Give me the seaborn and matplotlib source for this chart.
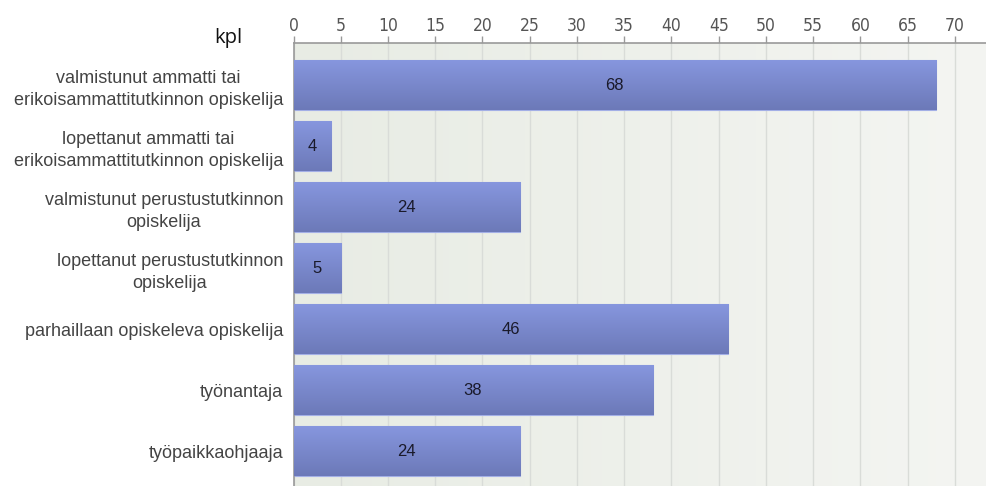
import numpy as np
import pandas as pd
import matplotlib
matplotlib.use("Agg")
import matplotlib.pyplot as plt
import seaborn as sns
from matplotlib.colors import LinearSegmentedColormap

categories = [
    "valmistunut ammatti tai\nerikoisammattitutkinnon opiskelija",
    "lopettanut ammatti tai\nerikoisammattitutkinnon opiskelija",
    "valmistunut perustustutkinnon\nopiskelija",
    "lopettanut perustustutkinnon\nopiskelija",
    "parhaillaan opiskeleva opiskelija",
    "työnantaja",
    "työpaikkaohjaaja",
]
values = [68, 4, 24, 5, 46, 38, 24]
xticks = list(range(0, 75, 5))
unit_label = "kpl"

df = pd.DataFrame({"cat": categories, "val": values})

sns.set_theme(style="white")
plt.rcParams["font.family"] = ["Liberation Sans", "DejaVu Sans"]

W, H = 986, 486
fig = plt.figure(figsize=(W / 100, H / 100), dpi=100)
left_px, top_px = 293.5, 43
ax = fig.add_axes([left_px / W, 0, (W - left_px) / W, (H - top_px) / H])

xmax = (W - left_px) / 9.45
ax.set_xlim(0, xmax)
ax.set_ylim(6.57, -0.69)

# background gradient
bg = LinearSegmentedColormap.from_list("bg", ["#e8ece4", "#f4f5f2"])
grad = np.linspace(0, 1, 256).reshape(1, -1)
ax.imshow(grad, cmap=bg, aspect="auto", extent=[0, xmax, 6.57, -0.69], zorder=0)

for t in xticks:
    ax.axvline(t, color="#d9dcd8", lw=1, zorder=1)

sns.barplot(data=df, x="val", y="cat", orient="h", color="#7b89cf",
            width=0.82, ax=ax, zorder=2, edgecolor="#a3afe6", linewidth=0.8,
            saturation=1)

barcm = LinearSegmentedColormap.from_list("bar", ["#8797df", "#6c79b8"])
vgrad = np.linspace(0, 1, 256).reshape(-1, 1)
for p in ax.patches:
    x0, y0 = p.get_x(), p.get_y()
    w, h = p.get_width(), p.get_height()
    im = ax.imshow(vgrad, cmap=barcm, aspect="auto",
                   extent=[x0, x0 + w, y0 + h, y0], zorder=3)
    im.set_clip_path(p)

for i, v in enumerate(values):
    ax.text(v / 2, i, str(v), ha="center", va="center", fontsize=12,
            color="#1a1a2a", zorder=5)

ax.set_xlim(0, xmax)
ax.set_ylim(6.57, -0.69)
ax.set_xticks(xticks)
ax.xaxis.tick_top()
ax.tick_params(axis="x", which="both", top=True, bottom=False, direction="out",
               length=5, width=1, color="#999999", labelsize=12.5,
               labelcolor="#555555", pad=0.5)
for lbl in ax.get_xticklabels():
    lbl.set_family("DejaVu Sans")
    lbl.set_fontstretch("condensed")
ax.set_xlabel("")
ax.set_ylabel("")
ax.set_yticks(range(len(categories)))
ax.set_yticklabels(categories, fontsize=13.0, color="#444444",
                   ha="right", linespacing=1.35)
for lbl in ax.get_yticklabels():
    lbl.set_multialignment("center")
ax.tick_params(axis="y", length=0, pad=7.5)

for s in ["right", "bottom"]:
    ax.spines[s].set_visible(False)
ax.spines["top"].set_color("#999999")
ax.spines["left"].set_color("#999999")
ax.spines["top"].set_linewidth(1.2)
ax.spines["left"].set_linewidth(1.2)

fig.text(228 / W, 1 - 43 / H, unit_label, ha="center", va="baseline",
         fontsize=14.5, color="#111111", family="Open Sans")

fig.savefig("out.png", dpi=100)
